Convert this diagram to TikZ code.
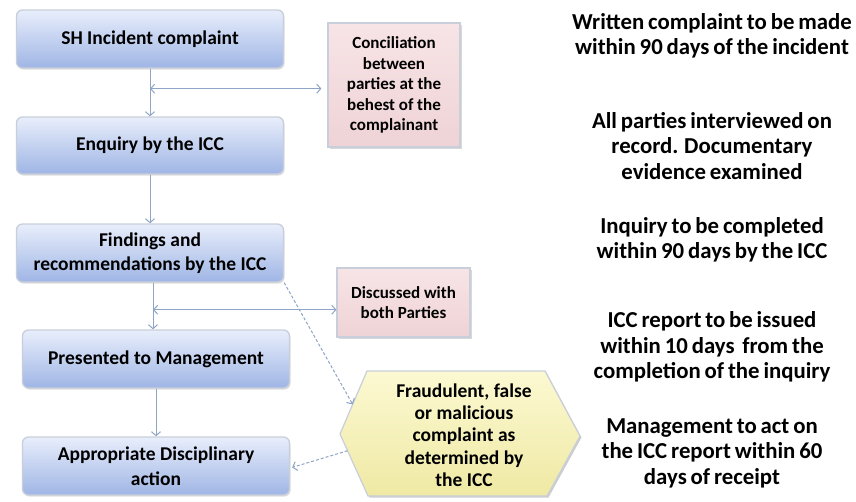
\documentclass[tikz,border=0pt]{standalone}
\usepackage{fontspec}
\setmainfont{Carlito}
\usetikzlibrary{arrows.meta,shadows,calc}
\definecolor{btop}{HTML}{E8EEFB}
\definecolor{bbot}{HTML}{9FB5E5}
\definecolor{bedge}{HTML}{C9CFDA}
\definecolor{ptop}{HTML}{F7E4E6}
\definecolor{pbot}{HTML}{EFD3D6}
\definecolor{ytop}{HTML}{FCF9D2}
\definecolor{ybot}{HTML}{EFE9A4}
\definecolor{arrc}{HTML}{8EA5C6}
\newcommand{\notefont}{\bfseries\fontsize{22.8}{25.5}\selectfont\spaceskip=0.17em plus 0.05em\relax}
\tikzset{
  bluebox/.style={draw=bedge, line width=1.3pt, rounded corners=6pt,
    top color=btop, bottom color=bbot, minimum width=267pt, minimum height=58pt,
    align=center, font=\bfseries\fontsize{19.5}{24.5}\selectfont,
    drop shadow={opacity=0.25, shadow xshift=1pt, shadow yshift=-1.5pt}},
  pinkbox/.style={draw=bedge, line width=1.2pt, top color=ptop, bottom color=pbot,
    align=center, font=\bfseries\fontsize{17}{20.6}\selectfont,
    drop shadow={opacity=0.3, shadow xshift=1.5pt, shadow yshift=-1.5pt}},
  note/.style={align=center, font=\notefont},
  arr/.style={draw=arrc, line width=1pt, -{Straight Barb[length=4pt,width=9pt]}},
  darr/.style={draw=arrc, line width=1pt, {Straight Barb[length=4pt,width=9pt]}-{Straight Barb[length=4pt,width=9pt]}},
  dsharr/.style={draw=arrc, line width=1pt, dashed, dash pattern=on 3pt off 2pt, -{Straight Barb[length=4pt,width=9pt]}},
}
\begin{document}
\begin{tikzpicture}[x=1pt,y=-1pt]
\useasboundingbox (0,0) rectangle (856,501);
\fill[white] (0,0) rectangle (856,501);

% main flow
\node[bluebox] (b1) at (150,39) {SH Incident complaint};
\node[bluebox, minimum height=57pt] (b2) at (150,145.5) {Enquiry by the ICC};
\node[bluebox] (b3) at (150,253) {Findings and\\recommendations by the ICC};
\node[bluebox] (b4) at (156,359) {Presented to Management};
\node[bluebox] (b5) at (156,466) {Appropriate Disciplinary\\action};

% side boxes
\node[pinkbox, minimum width=132pt, minimum height=124pt, inner sep=1pt] (p1) at (394,85)
  {Conciliation\\between\\parties at the\\behest of the\\complainant};
\node[pinkbox, minimum width=133pt, minimum height=69pt, inner sep=1pt] (p2) at (403.5,302.5)
  {Discussed with\\both Parties};

% hexagon
\coordinate (hl) at (340,434);
\coordinate (htl) at (367,371);
\coordinate (htr) at (545,371);
\coordinate (hr) at (580,436);
\coordinate (hbr) at (547,496);
\coordinate (hbl) at (368,496);
\fill[black, opacity=0.2] ($(hl)+(1.5,1.5)$) -- ($(htl)+(1.5,1.5)$) -- ($(htr)+(1.5,1.5)$) -- ($(hr)+(1.5,1.5)$) -- ($(hbr)+(1.5,1.5)$) -- ($(hbl)+(1.5,1.5)$) -- cycle;
\shade[top color=ytop, bottom color=ybot, draw=bedge, line width=1.2pt]
  (hl) -- (htl) -- (htr) -- (hr) -- (hbr) -- (hbl) -- cycle;
\node[align=center, font=\bfseries\fontsize{19.5}{22.3}\selectfont, inner sep=0pt] (hex) at (464,435)
  {Fraudulent, false\\or malicious\\complaint as\\determined by\\the ICC};

% connectors
\draw[arr] (b1.south) -- (b2.north);
\coordinate (j1) at ($(b1.south)!0.42!(b2.north)$);
\draw[darr, shorten >=6pt] (j1) -- (j1 -| p1.west);
\draw[arr] (b2.south) -- (b3.north);
\draw[arr] ($(b3.south)+(3,0)$) coordinate (s3) -- (s3 |- b4.north);
\coordinate (j2) at ($(s3)!0.58!(s3 |- b4.north)$);
\draw[darr] (j2) -- (j2 -| p2.west);
\draw[arr] (b4.south) -- (b5.north);
\coordinate (hexnw) at ($(hl)!0.47!(htl)$);
\coordinate (hexsw) at ($(hl)!0.27!(hbl)$);
\draw[dsharr] (b3.south east) -- (hexnw);
\draw[dsharr, shorten >=2pt] (hexsw) -- ($(b5.east)+(0,2)$);

% notes
\node[note] (n1) at (712,36) {Written complaint to be made\\within 90 days of the incident};
\node[note] (n2) at (712,146) {All parties interviewed on\\record. Documentary\\evidence examined};
\node[note] (n3) at (712,240) {Inquiry to be completed\\within 90 days by the ICC};
\node[note] (n4) at (712,347) {ICC report to be issued\\within 10 days\ \ from the\\completion of the inquiry};
\node[note] (n5) at (712,453) {Management to act on\\the ICC report within 60\\days of receipt};
\end{tikzpicture}
\end{document}
